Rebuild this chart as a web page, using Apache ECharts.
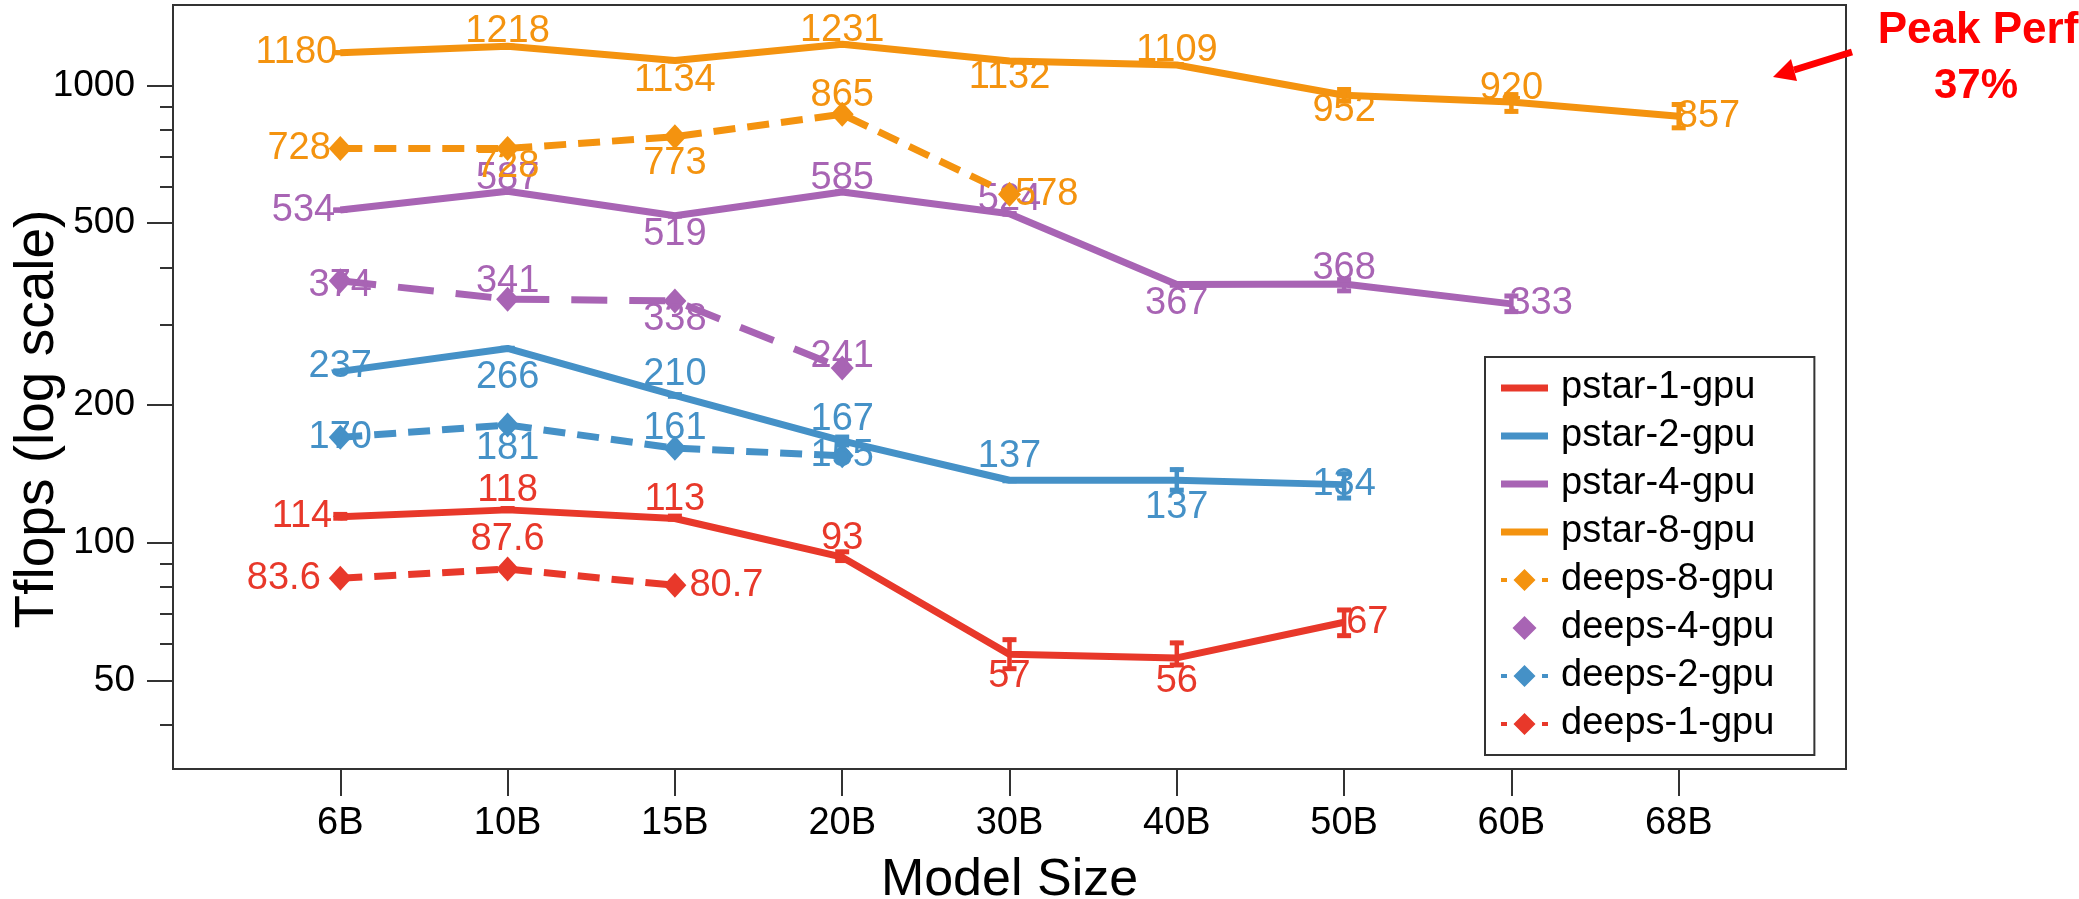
<!DOCTYPE html>
<html>
<head>
<meta charset="utf-8">
<script src="https://cdn.jsdelivr.net/npm/echarts@6/dist/echarts.min.js"></script>
<style>html,body{margin:0;padding:0;background:#fff}#c{width:2079px;height:899px}</style>
</head>
<body>
<div id="c"></div>
<script>
// ---------- data ----------
const categories = ['6B','10B','15B','20B','30B','40B','50B','60B','68B'];
const pstar1 = [114, 118, 113, 93, 57, 56, 67];
const pstar2 = [237, 266, 210, 167, 137, 137, 134];
const pstar4 = [534, 587, 519, 585, 524, 367, 368, 333];
const pstar8 = [1180, 1218, 1134, 1231, 1132, 1109, 952, 920, 857];
const deeps8 = [728, 728, 773, 865, 578];
const deeps4 = [374, 341, 338, 241];
const deeps2 = [170, 181, 161, 155];
const deeps1 = [83.6, 87.6, 80.7];
// error bars (low / high)
const pstar1Low  = [112, 116.5, 111.5, 90.5, 52.5, 53.5, 62];
const pstar1High = [116.5, 120, 115.5, 96.5, 62, 61, 72];
const pstar2Low  = [234, 263, 207, 162, 136, 129, 124];
const pstar2High = [240, 269, 213, 172, 138, 146, 143];
const pstar4Low  = [528, 581, 513, 579, 518, 362, 352, 317];
const pstar4High = [540, 593, 525, 591, 530, 372, 380, 350];
const pstar8Low  = [1168, 1204, 1121, 1217, 1118, 1095, 915, 869, 800];
const pstar8High = [1192, 1232, 1147, 1245, 1146, 1123, 990, 965, 918];
const yMajorTicks = [50, 100, 200, 500, 1000];
const yMinorTicks = [40, 60, 70, 80, 90, 300, 400, 600, 700, 800, 900];

// ---------- label placement (style, not data) ----------
const P = {L:'left', R:'right', T:'top', B:'bottom', C:'inside'};
const lbl_p1 = [['L',8],['T',0],['T',0],['T',0],['B',3],['B',5],['R',2]];
const lbl_p2 = [['C',0,-5],['B',10],['T',2],['T',2],['T',5],['B',8],['C',0]];
const lbl_p4 = [['L',5],['T',-6],['B',0],['T',-6],['T',-5],['B',0],['T',-4],['R',-2]];
const lbl_p8 = [['L',3],['T',-4],['B',1],['T',-5],['B',-2],['T',-5],['B',-4],['T',-5],['R',-2]];
const lbl_d8 = [['L',-2],['B',-14],['B',-5],['T',-13],['R',-6]];
const lbl_d4 = [['C',0,5],['T',-14],['B',-13],['C',0,-12]];
const lbl_d2 = [['C',0],['B',-8],['T',-12],['C',0]];
const lbl_d1 = [['L',8],['T',-2],['R',3]];

const C_RED = '#E8382A', C_BLUE = '#4591C7', C_PURPLE = '#A864B4', C_ORANGE = '#F4930F';
const FONT = 'Liberation Sans';
const ICON_LINE = 'path://M0,0H47V7H0Z';
const ICON_DASH_DIAMOND = 'path://M0,10H6V14H0Z M12.5,12L23.5,1L34.5,12L23.5,23Z M41,10H47V14H41Z';
const ICON_DIAMOND = 'path://M0,11L11,0L22,11L11,22Z';

function points(vals, lbls) {
  return vals.map((v, i) => ({
    value: [categories[i], v],
    label: {
      position: P[lbls[i][0]],
      distance: lbls[i][1],
      offset: [0, lbls[i][2] || 0]
    }
  }));
}
function labelStyle(color) {
  return {show: true, color: color, fontSize: 38, fontFamily: FONT,
          formatter: p => String(p.value[1])};
}
function pstarSeries(name, vals, lbls, color) {
  return {
    name, type: 'line', data: points(vals, lbls),
    symbol: 'circle', symbolSize: 0.1, color: color,
    lineStyle: {width: 7, color: color}, itemStyle: {color: color},
    label: labelStyle(color), z: 3, animation: false
  };
}
function deepsSeries(name, vals, lbls, color, dash) {
  return {
    name, type: 'line', data: points(vals, lbls),
    symbol: 'diamond', symbolSize: [23, 25], color: color,
    lineStyle: {width: 7, color: color, type: dash},
    itemStyle: {color: color}, label: labelStyle(color), z: 4, animation: false
  };
}
function errSeries(name, lo, hi, color) {
  return {
    name, type: 'custom', z: 5, animation: false, silent: true,
    data: lo.map((l, i) => [categories[i], l, hi[i]]),
    renderItem: function (params, api) {
      const x = api.value(0);
      const a = api.coord([x, api.value(1)]);
      const b = api.coord([x, api.value(2)]);
      const w = 7;
      const st = {stroke: color, lineWidth: 5};
      return {type: 'group', children: [
        {type: 'line', shape: {x1: a[0], y1: a[1], x2: b[0], y2: b[1]}, style: {stroke: color, lineWidth: 4.5}},
        {type: 'line', shape: {x1: a[0]-w, y1: a[1]-2, x2: a[0]+w, y2: a[1]-2}, style: st},
        {type: 'line', shape: {x1: b[0]-w, y1: b[1]+2, x2: b[0]+w, y2: b[1]+2}, style: st}
      ]};
    }
  };
}

const axisData = [''].concat(categories, ['']);
const chart = echarts.init(document.getElementById('c'), null, {renderer: 'canvas'});
const option = {
  backgroundColor: '#fff',
  animation: false,
  textStyle: {fontFamily: FONT},
  grid: {left: 173, right: 233, top: 5, bottom: 130, outerBoundsMode: 'none', containLabel: false,
         show: true, borderColor: '#333', borderWidth: 2, backgroundColor: 'transparent'},
  xAxis: {
    type: 'category', data: axisData, boundaryGap: false,
    name: 'Model Size', nameLocation: 'middle', nameGap: 86, nameMoveOverlap: false,
    nameTextStyle: {fontSize: 52, color: '#000', fontFamily: FONT},
    axisLine: {show: true, lineStyle: {color: '#333', width: 2}},
    axisTick: {show: true, length: 27, lineStyle: {color: '#333', width: 2},
               interval: (i, v) => v !== ''},
    axisLabel: {interval: 0, margin: 36, fontSize: 38, color: '#000', fontFamily: FONT},
    splitLine: {show: false}
  },
  yAxis: [{
    type: 'log', min: 32, max: 1500, position: 'left',
    name: 'Tflops (log scale)', nameLocation: 'middle', nameGap: 108, nameRotate: 90,
    nameMoveOverlap: false,
    nameTextStyle: {fontSize: 55, color: '#000', fontFamily: FONT, padding: [0, 64, 0, 0]},
    axisLine: {show: true, lineStyle: {color: '#333', width: 2}},
    axisTick: {show: true, length: 26, lineStyle: {color: '#333', width: 2}, customValues: yMajorTicks},
    axisLabel: {margin: 38, fontSize: 37, color: '#000', fontFamily: FONT, customValues: yMajorTicks,
                formatter: v => String(v)},
    splitLine: {show: false}, minorTick: {show: false}
  }, {
    type: 'log', min: 32, max: 1500, position: 'left',
    axisLine: {show: false},
    axisTick: {show: true, length: 13, lineStyle: {color: '#333', width: 2}, customValues: yMinorTicks},
    axisLabel: {show: false, customValues: yMinorTicks},
    splitLine: {show: false}
  }],
  legend: {
    orient: 'vertical', left: 1485, top: 357,
    padding: [12, 40, 12, 16], itemGap: 10, itemWidth: 47, itemHeight: 24,
    borderColor: '#333', borderWidth: 2, backgroundColor: '#fff',
    textStyle: {fontSize: 38, color: '#000', fontFamily: FONT, padding: [0, 0, 0, 8]},
    data: [
      {name: 'pstar-1-gpu', icon: ICON_LINE}, {name: 'pstar-2-gpu', icon: ICON_LINE},
      {name: 'pstar-4-gpu', icon: ICON_LINE}, {name: 'pstar-8-gpu', icon: ICON_LINE},
      {name: 'deeps-8-gpu', icon: ICON_DASH_DIAMOND}, {name: 'deeps-4-gpu', icon: ICON_DIAMOND},
      {name: 'deeps-2-gpu', icon: ICON_DASH_DIAMOND}, {name: 'deeps-1-gpu', icon: ICON_DASH_DIAMOND}
    ]
  },
  series: [
    pstarSeries('pstar-1-gpu', pstar1, lbl_p1, C_RED),
    pstarSeries('pstar-2-gpu', pstar2, lbl_p2, C_BLUE),
    pstarSeries('pstar-4-gpu', pstar4, lbl_p4, C_PURPLE),
    pstarSeries('pstar-8-gpu', pstar8, lbl_p8, C_ORANGE),
    deepsSeries('deeps-8-gpu', deeps8, lbl_d8, C_ORANGE, [22, 12]),
    deepsSeries('deeps-4-gpu', deeps4, lbl_d4, C_PURPLE, [36, 22]),
    deepsSeries('deeps-2-gpu', deeps2, lbl_d2, C_BLUE, [22, 12]),
    deepsSeries('deeps-1-gpu', deeps1, lbl_d1, C_RED, [22, 12]),
    errSeries('e1', pstar1Low, pstar1High, C_RED),
    errSeries('e2', pstar2Low, pstar2High, C_BLUE),
    errSeries('e4', pstar4Low, pstar4High, C_PURPLE),
    errSeries('e8', pstar8Low, pstar8High, C_ORANGE)
  ],
  graphic: [
    {type: 'polyline', shape: {points: [[1852, 52], [1794, 70]]}, style: {stroke: '#FF0000', lineWidth: 7}},
    {type: 'polygon', shape: {points: [[1773, 77], [1797, 81], [1791, 59]]}, style: {fill: '#FF0000'}},
    {type: 'text', x: 1978, y: 9, style: {text: 'Peak Perf', fill: '#FF0000', font: 'bold 44px "Liberation Sans"', textAlign: 'center', textVerticalAlign: 'top'}},
    {type: 'text', x: 1976, y: 65, style: {text: '37%', fill: '#FF0000', font: 'bold 42px "Liberation Sans"', textAlign: 'center', textVerticalAlign: 'top'}}
  ]
};
chart.setOption(option);
</script>
</body>
</html>
